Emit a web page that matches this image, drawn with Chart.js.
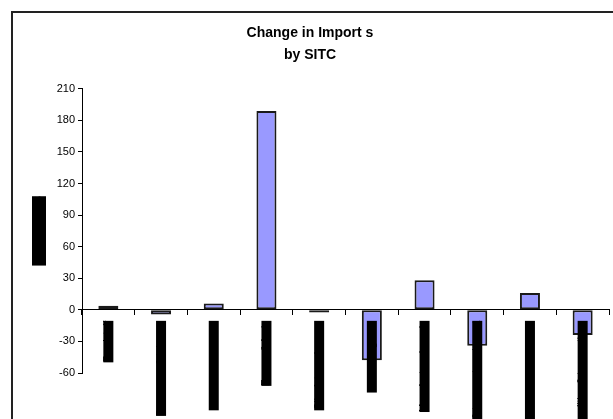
<!DOCTYPE html>
<html>
<head>
<meta charset="utf-8">
<script src="https://cdn.jsdelivr.net/npm/chart.js@4/dist/chart.umd.min.js"></script>
<style>
  html, body { margin: 0; padding: 0; background: #fff; overflow: hidden; }
  #wrap { position: relative; width: 613px; height: 419px; }
  #frame { position: absolute; left: 11px; top: 11px; width: 700px; height: 500px; border: 2px solid #222; box-sizing: border-box; }
  #chart { position: absolute; left: 0; top: 0; }
</style>
</head>
<body>
<div id="wrap">
  <div id="frame"></div>
  <canvas id="chart" width="613" height="419"></canvas>
</div>
<script>
// SITC sections and the change in imports for each
const categories = [
  "Foodstuff",
  "Beverages & tobacco",
  "Crude raw materials",
  "Energy & fuels",
  "Oils, fats and waxes",
  "Chemical goods",
  "Manufactured goods",
  "Machinery & transport equipment",
  "Miscellaneous manufactures",
  "Other commodities & transactions"
];
const importChange = [4, -4.5, 6, 189, -2.5, -48, 28, -34, 16, -24];

const titleLines = ["Change in Import s", "by SITC"];
const valueAxisTitle = "Millions of $";

const FONT = "'Liberation Sans', Arial, sans-serif";

// Vertical value-axis caption, shown as a solid block
const axisCaption = {
  id: 'axisCaption',
  afterDraw(chart) {
    const { ctx, chartArea } = chart;
    ctx.save();
    ctx.font = "bold 12px " + FONT;
    const w = ctx.measureText(valueAxisTitle).width;
    const cx = 39;
    const cy = (chartArea.top + chartArea.bottom) / 2;
    ctx.translate(cx, cy);
    ctx.rotate(-Math.PI / 2);
    ctx.fillStyle = '#000';
    ctx.fillRect(-w / 2, -7, w, 14);
    ctx.textAlign = 'center';
    ctx.textBaseline = 'middle';
    ctx.fillText(valueAxisTitle, 0, 0);
    ctx.restore();
  }
};

new Chart(document.getElementById('chart'), {
  type: 'bar',
  data: {
    labels: categories,
    datasets: [{
      data: importChange,
      backgroundColor: '#9999FF',
      borderColor: '#1a1a1a',
      borderWidth: 2,
      borderSkipped: false,
      categoryPercentage: 1,
      barPercentage: 0.38
    }]
  },
  options: {
    responsive: false,
    animation: false,
    devicePixelRatio: 1,
    layout: { padding: { left: 11, right: 4, top: 0, bottom: 46 } },
    plugins: {
      legend: { display: false },
      tooltip: { enabled: false },
      title: {
        display: true,
        text: titleLines,
        color: '#000',
        font: { family: FONT, size: 14, weight: 'bold', lineHeight: 1.6 },
        padding: { top: 22, bottom: 22 }
      }
    },
    scales: {
      x: {
        type: 'category',
        position: { y: 0 },
        offset: true,
        grid: {
          display: true,
          offset: true,
          drawOnChartArea: false,
          drawTicks: true,
          tickLength: 5,
          color: '#000'
        },
        border: { display: true, color: '#000', width: 1, z: 1 },
        ticks: {
          z: 2,
          autoSkip: false,
          minRotation: 90,
          maxRotation: 90,
          padding: 6,
          labelOffset: -5,
          color: '#000',
          font: { family: FONT, size: 10, lineHeight: 1 },
          showLabelBackdrop: true,
          backdropColor: '#000',
          backdropPadding: 0
        }
      },
      y: {
        min: -60,
        max: 210,
        afterFit(scale) { scale.width = 71; },
        grid: {
          display: true,
          drawOnChartArea: false,
          drawTicks: true,
          tickLength: 4,
          color: '#000'
        },
        border: { display: true, color: '#000', width: 1 },
        ticks: {
          stepSize: 30,
          padding: 3,
          color: '#000',
          font: { family: FONT, size: 11 }
        }
      }
    }
  },
  plugins: [axisCaption]
});
</script>
</body>
</html>
